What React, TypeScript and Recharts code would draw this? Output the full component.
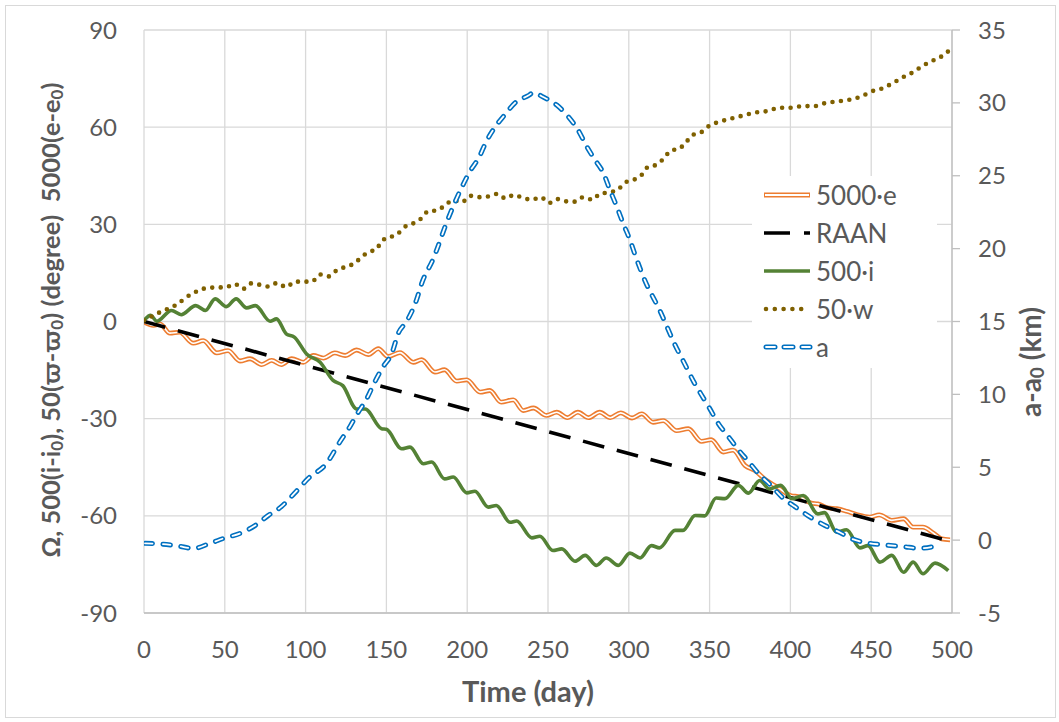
import React from 'react';
import { LineChart, Line, XAxis, YAxis, CartesianGrid, Legend } from 'recharts';

const FONT = 'Lato, "Open Sans", sans-serif';
const GREY = '#595959';

const xTicks = [0, 50, 100, 150, 200, 250, 300, 350, 400, 450, 500];
const leftTicks = [-90, -60, -30, 0, 30, 60, 90];
const rightTicks = [-5, 0, 5, 10, 15, 20, 25, 30, 35];

// 5000·e
const eDays = [0, 5.8, 10, 16, 22, 30.5, 36.7, 45, 52, 59.4, 65.6, 72.8, 79, 85, 91.4, 98.6, 104.8, 111, 118, 124.5, 131.6, 138.8, 145, 151, 158.4, 166.6, 171.8, 180, 186, 193.5, 199.7, 208, 214, 221, 228.5, 234.7, 241, 249, 255.4, 262, 268.5, 275, 282, 288.5, 295, 302, 308, 315, 321.3, 329.6, 336.8, 345, 351, 358.5, 364.5, 372, 378, 385, 391.5, 400, 406, 413, 417, 423, 428.6, 434.8, 441, 449, 455, 462.7, 470, 476, 482, 488.4, 493.6, 498.8];
const eVals = [-0.2, -1.2, -0.8, -3.6, -3.3, -6.7, -5.9, -9.7, -9.0, -12.2, -11.5, -13.3, -12.0, -13.3, -11.5, -12.6, -10.5, -11.3, -9.7, -10.5, -8.8, -10.2, -8.4, -10.8, -9.6, -12.6, -11.8, -15.6, -14.9, -18.4, -18, -21.8, -21.3, -24.9, -24.2, -27.5, -26.7, -29, -28, -29.7, -28, -29.7, -28, -29.7, -28.2, -29.8, -28.5, -31.1, -30.6, -33.7, -33.1, -37, -36.5, -40.3, -39.7, -44.5, -46, -49, -51, -53.7, -54.2, -56.1, -56.3, -57.5, -57.8, -58.6, -59.6, -60.4, -59.7, -61.4, -60.9, -63.5, -63.5, -65.3, -67.1, -67.4];

// RAAN
const raanDays = [0, 495];
const raanVals = [0, -67.3];

// 500·i
const iDays = [0, 4, 8, 17, 23, 32, 38, 44, 51, 57, 63.5, 69, 78, 82, 88, 93, 100.6, 109, 117, 123, 131.6, 136.8, 147, 150, 159.5, 164.6, 172.8, 178, 186, 191.4, 199.7, 204.8, 213, 218, 226.5, 230.6, 240, 245, 253, 258.5, 266.7, 273, 280, 286, 293.5, 300.7, 307, 314, 319, 328.6, 333.6, 341, 347, 354, 359.5, 367.8, 374, 381, 387, 394, 401, 408, 417, 421, 428.6, 434.8, 443, 448, 455.4, 462.7, 470, 476, 482, 489.5, 497.7];
const iVals = [0.3, 1.9, 0.1, 3.4, 2.1, 4.9, 3.4, 7.0, 4.6, 7.0, 4.2, 4.9, 0.1, 0.8, -3.8, -4.8, -10, -12.6, -18.2, -19.8, -27, -27, -33.1, -33.3, -39.3, -38.8, -43.9, -43.4, -48.6, -48, -52.9, -52.4, -57.3, -56.8, -62, -61.6, -66.8, -66.3, -70.7, -70.2, -74, -72.2, -75.3, -73, -75.3, -71.5, -73, -69.2, -69.9, -64.5, -64.5, -59.9, -60, -54.5, -54.7, -50.6, -53, -49.1, -51.7, -50.6, -54.7, -53.7, -59.4, -59, -65, -64.3, -69.9, -69.2, -74.3, -72.2, -77.4, -74.3, -77.9, -74.6, -76.9];

// 50·w
const wDays = [0, 10, 19, 29.5, 39.8, 51, 56, 61.5, 66.6, 77, 82.5, 88, 93.4, 103.8, 109, 114, 119, 129.5, 138.8, 144, 147, 157, 162.5, 166.6, 171.8, 176, 181.5, 186, 191.4, 196.6, 202, 207.5, 213, 218.6, 223.8, 229, 234.3, 240, 245.5, 250.6, 255.8, 261, 266.7, 271.8, 277.6, 282, 288, 293.5, 297.6, 302.8, 308, 311.5, 317, 321.8, 326, 331, 335.8, 340, 345, 350, 355, 362, 370, 378, 386, 393, 400, 408, 415, 422, 430, 437, 444, 450, 457, 463, 470, 476, 482, 488, 494, 499];
const wVals = [0.3, 2.9, 4.9, 8.5, 10.4, 10.6, 11.6, 10.1, 11.8, 10.8, 11.9, 10.6, 12.3, 12.3, 14.5, 13.9, 15.7, 17.8, 21.4, 22.4, 24.8, 27.1, 29.6, 30.3, 31.9, 34.1, 34.3, 35.8, 37.4, 36.8, 38.8, 38.4, 38.6, 39.4, 38, 39.1, 38.2, 37.6, 38.4, 36.6, 37.8, 37.1, 37, 38.4, 37.6, 39.4, 39.9, 40.8, 42.9, 43.7, 45.3, 47.6, 48.4, 50.4, 52.8, 53.3, 55.6, 57.7, 58.5, 60.5, 61.5, 62.5, 63.5, 64.5, 65, 66, 66, 66.5, 66.5, 67.5, 68, 68.5, 69.5, 71, 72, 73.5, 75.5, 77, 79, 80.5, 82, 84];

// a (km), right axis
const aDays = [0.6, 11, 21, 30.5, 40.8, 50, 59.4, 68.7, 77, 85, 93, 101.7, 113, 121, 127.5, 131.6, 137.8, 143, 148, 153.3, 157.4, 162.5, 168.7, 171.8, 179, 188, 196.6, 201.7, 207.5, 211.6, 217, 223.4, 229.6, 237.8, 241, 247, 255.4, 262.6, 268.8, 274, 279, 284.2, 288.4, 292.5, 296.6, 300.7, 303.8, 310, 319, 328.6, 335, 340, 345, 350, 355.4, 361.6, 367.8, 374, 380, 388.4, 395.6, 402.8, 412, 421.4, 429.6, 439, 448, 458.5, 470, 480, 490.5];
const aVals = [-0.22, -0.27, -0.4, -0.57, -0.22, 0.15, 0.46, 1.0, 1.7, 2.3, 3.2, 4.24, 5.27, 6.7, 7.8, 8.6, 9.7, 10.9, 11.9, 12.8, 14.2, 15, 16.5, 17.6, 19.3, 22, 24.2, 25.3, 26.3, 27.3, 28.3, 29.2, 30, 30.5, 30.7, 30.4, 29.85, 29.05, 28.1, 27, 26.1, 25.2, 24, 22.9, 21.7, 20.6, 19.6, 17.8, 15.8, 13.4, 12, 10.9, 9.96, 9.04, 8.0, 7.1, 6.2, 5.4, 4.6, 3.7, 2.87, 2.3, 1.6, 1.0, 0.58, 0.05, -0.2, -0.33, -0.45, -0.56, -0.4];

const toPoints = (days: number[], vals: number[]) => days.map((x, i) => ({ x, y: vals[i] }));

const ePts = toPoints(eDays, eVals);
const raanPts = toPoints(raanDays, raanVals);
const iPts = toPoints(iDays, iVals);
const wPts = toPoints(wDays, wVals);
const aPts = toPoints(aDays, aVals);

const tickStyle = { fill: GREY, fontSize: 24, fontFamily: FONT };

function LegendSample({ kind }: { kind: string }) {
  return (
    <svg width={52} height={20} style={{ display: 'block' }}>
      {kind === 'e' && (
        <>
          <line x1={3} y1={10} x2={49} y2={10} stroke="#ED7D31" strokeWidth={4.8} />
          <line x1={4} y1={10} x2={48} y2={10} stroke="#fff" strokeWidth={1.8} />
        </>
      )}
      {kind === 'raan' && (
        <line x1={3} y1={10} x2={49} y2={10} stroke="#000" strokeWidth={3.5} strokeDasharray="26 14" />
      )}
      {kind === 'i' && <line x1={3} y1={10} x2={49} y2={10} stroke="#548235" strokeWidth={3.6} />}
      {kind === 'w' && (
        <line x1={5} y1={10} x2={49} y2={10} stroke="#7F6000" strokeWidth={4.6} strokeLinecap="round" strokeDasharray="0 8.8" />
      )}
      {kind === 'a' && (
        <>
          <line x1={5} y1={10} x2={49} y2={10} stroke="#0070C0" strokeWidth={5} strokeLinecap="round" strokeDasharray="9 9" />
          <line x1={5} y1={10} x2={49} y2={10} stroke="#fff" strokeWidth={1.8} strokeLinecap="round" strokeDasharray="9 9" />
        </>
      )}
    </svg>
  );
}

const legendRows = [
  { kind: 'e', label: '5000·e' },
  { kind: 'raan', label: 'RAAN' },
  { kind: 'i', label: '500·i' },
  { kind: 'w', label: '50·w' },
  { kind: 'a', label: 'a' },
];

function ChartLegend() {
  return (
    <div style={{ paddingLeft: 9 }}>
      {legendRows.map((r) => (
        <div key={r.kind} style={{ display: 'flex', alignItems: 'center', height: 38 }}>
          <LegendSample kind={r.kind} />
          <span style={{ marginLeft: 3, fontSize: 26, color: GREY, fontFamily: FONT, lineHeight: '38px' }}>{r.label}</span>
        </div>
      ))}
    </div>
  );
}

export default function App() {
  return (
    <div style={{ position: 'absolute', left: 0, top: 0, width: 1059, height: 722, background: '#fff', fontFamily: FONT }}>
      <div
        style={{
          position: 'absolute',
          left: 5,
          top: 5,
          width: 1051,
          height: 713,
          border: '1px solid #d9d9d9',
          boxSizing: 'border-box',
        }}
      />
      <LineChart width={1059} height={722} margin={{ top: 30, right: 47, left: 84, bottom: 69 }}>
        <CartesianGrid yAxisId="left" stroke="#d9d9d9" strokeWidth={1.3} />
        <XAxis
          dataKey="x"
          type="number"
          domain={[0, 500]}
          ticks={xTicks}
          allowDataOverflow
          height={40}
          axisLine={{ stroke: '#bfbfbf', strokeWidth: 1.3 }}
          tickLine={false}
          tickSize={0}
          tickMargin={28}
          tick={tickStyle}
        />
        <YAxis
          yAxisId="left"
          domain={[-90, 90]}
          ticks={leftTicks}
          allowDataOverflow
          width={60}
          axisLine={false}
          tickLine={false}
          tickSize={0}
          tickMargin={27}
          tick={tickStyle}
        />
        <YAxis
          yAxisId="right"
          orientation="right"
          domain={[-5, 35]}
          ticks={rightTicks}
          allowDataOverflow
          width={60}
          axisLine={{ stroke: '#bfbfbf', strokeWidth: 1.3 }}
          tickLine={{ stroke: '#bfbfbf', strokeWidth: 1.3 }}
          tickSize={8}
          tickMargin={18}
          tick={{ ...tickStyle, textAnchor: 'start' }}
        />
        <Line data={ePts} dataKey="y" yAxisId="left" type="monotone" stroke="#ED7D31" strokeWidth={4.8} dot={false} activeDot={false} isAnimationActive={false} />
        <Line data={ePts} dataKey="y" yAxisId="left" type="monotone" stroke="#ffffff" strokeWidth={1.6} dot={false} activeDot={false} isAnimationActive={false} />
        <Line data={raanPts} dataKey="y" yAxisId="left" type="linear" stroke="#000000" strokeWidth={3.6} strokeDasharray="22 13" dot={false} activeDot={false} isAnimationActive={false} />
        <Line data={iPts} dataKey="y" yAxisId="left" type="monotone" stroke="#548235" strokeWidth={3.6} dot={false} activeDot={false} isAnimationActive={false} />
        <Line data={wPts} dataKey="y" yAxisId="left" type="monotone" stroke="#7F6000" strokeWidth={4.6} strokeLinecap="round" strokeDasharray="0 8.5" dot={false} activeDot={false} isAnimationActive={false} />
        <Line data={aPts} dataKey="y" yAxisId="right" type="monotone" stroke="#0070C0" strokeWidth={5} strokeLinecap="round" strokeDasharray="7.5 10.5" dot={false} activeDot={false} isAnimationActive={false} />
        <Line data={aPts} dataKey="y" yAxisId="right" type="monotone" stroke="#ffffff" strokeWidth={1.8} strokeLinecap="round" strokeDasharray="7.5 10.5" dot={false} activeDot={false} isAnimationActive={false} />
        <Legend
          layout="horizontal"
          verticalAlign="middle"
          align="center"
          content={() => <ChartLegend />}
          wrapperStyle={{ left: 752, top: 176, width: 185, height: 192, background: '#fff' }}
        />
      </LineChart>
      <svg width={1059} height={722} style={{ position: 'absolute', left: 0, top: 0, pointerEvents: 'none' }}>
        <text
          transform="translate(50,320) rotate(-90)"
          textAnchor="middle"
          dominantBaseline="central"
          fontSize={25.5}
          fontWeight={700}
          fill={GREY}
          fontFamily={FONT}
          style={{ whiteSpace: 'pre' }}
        >
          {'Ω, 500(i-i'}
          <tspan dy={6} fontSize={17}>0</tspan>
          <tspan dy={-6}>{'), 50(ϖ-ϖ'}</tspan>
          <tspan dy={6} fontSize={17}>0</tspan>
          <tspan dy={-6}>{') (degree)  5000(e-e'}</tspan>
          <tspan dy={6} fontSize={17}>0</tspan>
          <tspan dy={-6}>)</tspan>
        </text>
        <text
          transform="translate(1030,362) rotate(-90)"
          textAnchor="middle"
          dominantBaseline="central"
          fontSize={28}
          fontWeight={700}
          fill={GREY}
          fontFamily={FONT}
          style={{ whiteSpace: 'pre' }}
        >
          {'a-a'}
          <tspan dy={6} fontSize={19}>0</tspan>
          <tspan dy={-6}>{' (km)'}</tspan>
        </text>
        <text x={528} y={690} textAnchor="middle" dominantBaseline="central" fontSize={29} fontWeight={700} fill={GREY} fontFamily={FONT}>
          Time (day)
        </text>
      </svg>
    </div>
  );
}
